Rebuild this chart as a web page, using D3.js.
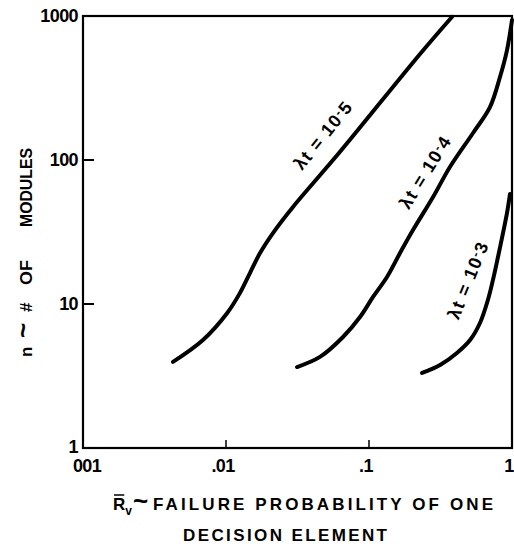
<!DOCTYPE html>
<html>
<head>
<meta charset="utf-8">
<script src="https://cdn.jsdelivr.net/npm/d3@7"></script>
<style>
  html, body { margin: 0; padding: 0; background: #fff; }
  svg { display: block; font-family: "Liberation Sans", Arial, sans-serif; font-weight: bold; }
</style>
</head>
<body>
<svg id="chart" width="514" height="552"></svg>
<script>
// axis ticks
const xTickValues = [0.001, 0.01, 0.1, 1];
const xTickLabels = ["001", ".01", ".1", "1"];
const yTickValues = [1, 10, 100, 1000];
const yTickLabels = ["1", "10", "100", "1000"];

// curves: failure probability p vs number of modules n
const curve5 = [
  { p: 0.00426, n: 3.96 }, { p: 0.0069, n: 5.62 }, { p: 0.0102, n: 8.66 },
  { p: 0.0125, n: 11.9 }, { p: 0.0147, n: 16.4 }, { p: 0.0173, n: 22.6 },
  { p: 0.0213, n: 31.1 }, { p: 0.0294, n: 47.2 }, { p: 0.0627, n: 114 },
  { p: 0.2275, n: 545 }, { p: 0.380, n: 985 }
];
const curve4 = [
  { p: 0.0314, n: 3.65 }, { p: 0.0454, n: 4.29 }, { p: 0.0658, n: 5.9 },
  { p: 0.0865, n: 8.12 }, { p: 0.1067, n: 11.2 }, { p: 0.1336, n: 15.4 },
  { p: 0.1648, n: 22.6 }, { p: 0.203, n: 32.6 }, { p: 0.2805, n: 55.3 },
  { p: 0.368, n: 89.4 }, { p: 0.534, n: 154 }, { p: 0.701, n: 233 },
  { p: 0.824, n: 377 }, { p: 0.923, n: 580 }, { p: 1.0, n: 938 }
];
const curve3 = [
  { p: 0.235, n: 3.32 }, { p: 0.314, n: 3.77 }, { p: 0.412, n: 4.57 },
  { p: 0.509, n: 5.62 }, { p: 0.597, n: 7.38 }, { p: 0.679, n: 10.7 },
  { p: 0.736, n: 14.7 }, { p: 0.798, n: 21.2 }, { p: 0.865, n: 31.1 },
  { p: 0.923, n: 42.9 }, { p: 0.968, n: 58 }
];
const curveNames = ["10-5", "10-4", "10-3"];

const svg = d3.select("#chart");
const plot = { left: 83, right: 512, top: 16, bottom: 448 };

const x = d3.scaleLog().domain([0.001, 1]).range([plot.left, plot.right]);
const y = d3.scaleLog().domain([1, 1000]).range([plot.bottom, plot.top]);

// frame
svg.append("rect")
  .attr("x", plot.left).attr("y", plot.top)
  .attr("width", plot.right - plot.left).attr("height", plot.bottom - plot.top)
  .attr("fill", "none").attr("stroke", "#000").attr("stroke-width", 2.2);

// inner ticks
svg.selectAll(".ytick")
  .data(yTickValues.slice(1, 3))
  .join("line")
  .attr("x1", plot.left).attr("x2", plot.left + 11)
  .attr("y1", d => y(d)).attr("y2", d => y(d))
  .attr("stroke", "#000").attr("stroke-width", 2);

svg.selectAll(".xtick")
  .data(xTickValues.slice(1, 3))
  .join("line")
  .attr("x1", d => x(d)).attr("x2", d => x(d))
  .attr("y1", plot.bottom).attr("y2", plot.bottom - 8)
  .attr("stroke", "#000").attr("stroke-width", 1.5);

// tick labels
svg.selectAll(".ylab")
  .data(yTickValues)
  .join("text")
  .attr("x", 78)
  .attr("y", (d, i) => i === 0 ? y(d) - 1 : y(d))
  .attr("dy", "0.36em")
  .attr("text-anchor", "end")
  .attr("font-size", 18)
  .attr("letter-spacing", -0.6)
  .text((d, i) => yTickLabels[i]);

svg.selectAll(".xlab")
  .data(xTickValues)
  .join("text")
  .attr("x", (d, i) => x(d) + (i === 0 ? 4 : -3))
  .attr("y", 472)
  .attr("text-anchor", "middle")
  .attr("font-size", 18)
  .attr("letter-spacing", -0.6)
  .text((d, i) => xTickLabels[i]);

// curves
const line = d3.line()
  .x(d => x(d.p))
  .y(d => y(d.n))
  .curve(d3.curveCatmullRom.alpha(0.5));

svg.selectAll(".curve")
  .data([curve5, curve4, curve3])
  .join("path")
  .attr("d", line)
  .attr("fill", "none")
  .attr("stroke", "#000")
  .attr("stroke-width", 4)
  .attr("stroke-linecap", "round");

// curve labels (anchor in data space, rotation in degrees)
const curveLabels = [
  { name: curveNames[0], p: 0.0477, n: 149, angle: -51 },
  { name: curveNames[1], p: 0.247, n: 82.6, angle: -58 },
  { name: curveNames[2], p: 0.492, n: 14.7, angle: -68 }
];
curveLabels.forEach(l => {
  const t = svg.append("text")
    .attr("transform", `translate(${x(l.p)},${y(l.n)}) rotate(${l.angle})`)
    .attr("text-anchor", "middle")
    .attr("dy", "0.35em")
    .attr("font-size", 18)
    .attr("letter-spacing", 1.3);
  const parts = l.name.split("-");
  t.append("tspan").text("λt = " + parts[0]);
  t.append("tspan").attr("font-size", 12).attr("dy", -5).text("-");
  t.append("tspan").attr("dy", 5).text(parts[1]);
});

// x axis title
const xt = svg.append("text")
  .attr("y", 510)
  .attr("font-size", 17);
xt.append("tspan").attr("x", 113).text("R");
xt.append("tspan").attr("font-size", 12).attr("dy", 5).text("v");
xt.append("tspan").attr("x", 133).attr("dy", -5).attr("font-size", 26).text("~");
xt.append("tspan").attr("x", 153).attr("textLength", 340).attr("lengthAdjust", "spacing")
  .text("FAILURE PROBABILITY OF ONE");
const rBox = xt.node().getExtentOfChar(0);
svg.append("line")
  .attr("x1", rBox.x + 1).attr("x2", rBox.x + rBox.width - 1)
  .attr("y1", 495).attr("y2", 495)
  .attr("stroke", "#000").attr("stroke-width", 1.5);

svg.append("text")
  .attr("x", 183).attr("y", 541)
  .attr("font-size", 17)
  .attr("textLength", 204).attr("lengthAdjust", "spacing")
  .text("DECISION  ELEMENT");

// y axis title (rotated, pieces placed along the baseline)
const yt = svg.append("text")
  .attr("transform", "translate(32,357) rotate(-90)")
  .attr("font-size", 17);
yt.append("tspan").attr("x", 0).text("n");
yt.append("tspan").attr("x", 19).attr("font-size", 26).text("~");
yt.append("tspan").attr("x", 45).text("#");
yt.append("tspan").attr("x", 72).attr("textLength", 25).attr("lengthAdjust", "spacingAndGlyphs")
  .text("OF");
yt.append("tspan").attr("x", 130).attr("textLength", 79).attr("lengthAdjust", "spacingAndGlyphs")
  .text("MODULES");
</script>
</body>
</html>
